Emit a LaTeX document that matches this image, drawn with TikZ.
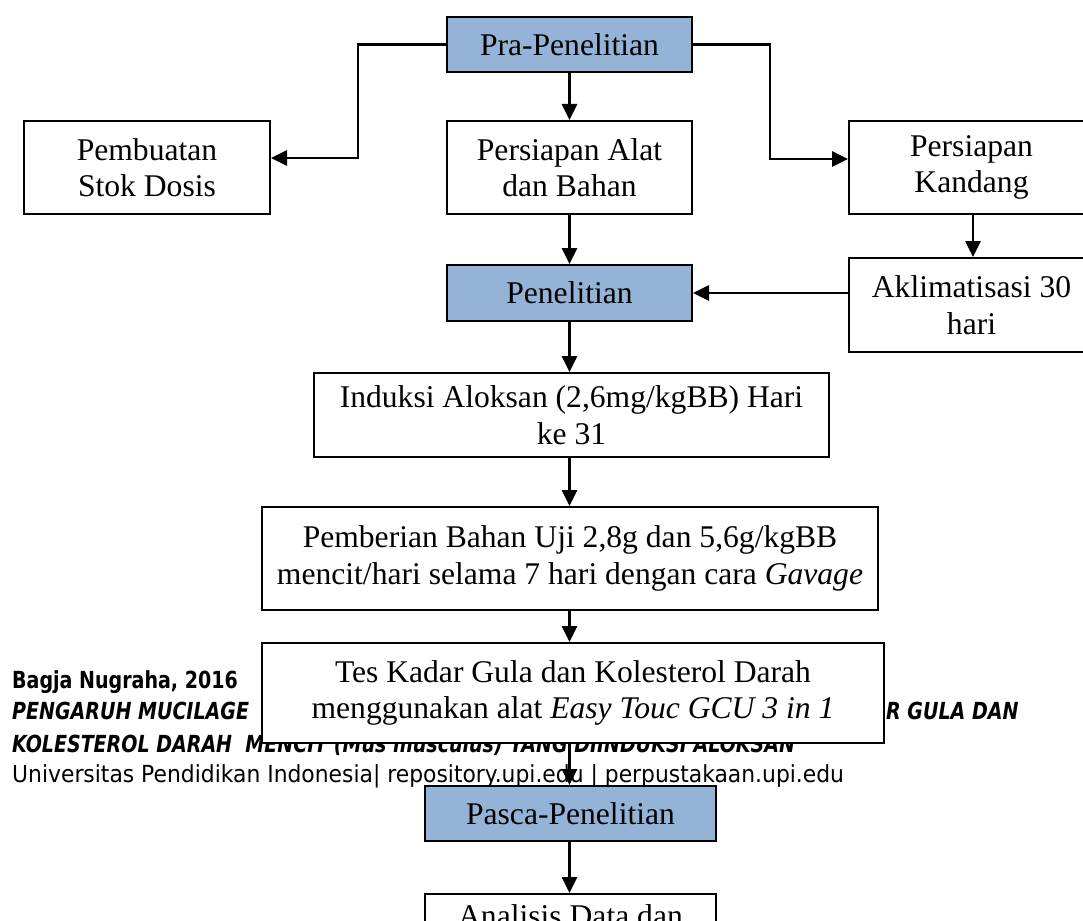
\documentclass[tikz,border=0pt]{standalone}
\usepackage{fontspec}
\setmainfont{Liberation Serif}
\newfontfamily\footfont[FakeStretch=0.93]{DejaVu Sans}
\newfontfamily\footbfont[FakeStretch=0.81]{DejaVu Sans Bold}
\newfontfamily\footbifont[FakeStretch=0.81]{DejaVu Sans Bold Oblique}
\usetikzlibrary{arrows.meta}
\definecolor{boxblue}{RGB}{149,179,215}
\begin{document}
\begin{tikzpicture}[x=1pt,y=-1pt,
  txt/.style={inner sep=0pt, align=center, font=\fontsize{31.6}{36.5}\selectfont},
  box/.style={txt, draw=black, line width=2pt, fill=white},
  bluebox/.style={box, fill=boxblue},
  arr/.style={line width=2.7pt, -{Triangle[length=16pt,width=15pt]}},
  foot/.style={anchor=base west, inner sep=0pt, font=\footfont\fontsize{23.5}{28}\selectfont},
  footb/.style={foot, font=\footbfont\fontsize{23.5}{28}\selectfont},
  footbi/.style={foot, font=\footbifont\fontsize{23.5}{28}\selectfont}]
\useasboundingbox (0,0) rectangle (1083,920);
\clip (0,0) rectangle (1083,920);
% footer of the page (lies under the diagram)
\node[footb] (f1) at (12,688) {Bagja Nugraha, 2016};
\node[footbi] (f2a) at (12,719) {PENGARUH MUCILAGE};
\node[footbi] (f2b) at (886,719) {R GULA DAN};
\node[footbi] (f3) at (12,752) {KOLESTEROL DARAH\ \ MENCIT (Mus musculus) YANG DIINDUKSI ALOKSAN};
\node[foot] (f4) at (12,782) {Universitas Pendidikan Indonesia| repository.upi.edu | perpustakaan.upi.edu};
% boxes
\node[bluebox, minimum width=245pt, minimum height=55pt] (pra) at (569.5,44.5) {Pra-Penelitian};
\node[box, minimum width=246pt, minimum height=93pt] (pemb) at (147,167.5) {Pembuatan\\Stok Dosis};
\node[box, minimum width=245pt, minimum height=93pt] (alat) at (569.5,167.5) {Persiapan Alat\\dan Bahan};
\node[box, minimum width=245pt, minimum height=93pt] (kand) at (971.5,167.5) {};
\begin{scope}
  \clip (kand.north west) rectangle (kand.east |- 0,199);
  \node[txt] (kandt) at (kand.center) {Persiapan\\Kandang};
\end{scope}
\node[bluebox, minimum width=245pt, minimum height=56pt] (pen) at (569.5,293) {Penelitian};
\node[box, minimum width=245pt, minimum height=94pt] (aklim) at (971.5,305) {Aklimatisasi 30\\hari};
\node[box, minimum width=515pt, minimum height=84pt] (ind) at (571.5,415) {Induksi Aloksan (2,6mg/kgBB) Hari\\ke 31};
\node[box, minimum width=616pt, minimum height=103pt] (pemberian) at (570,558.5) {Pemberian Bahan Uji 2,8g dan 5,6g/kgBB\\mencit/hari selama 7 hari dengan cara \textit{Gavage}};
\node[box, minimum width=622pt, minimum height=100pt] (tes) at (573,693) {Tes Kadar Gula dan Kolesterol Darah\\menggunakan alat \textit{Easy Touc GCU 3 in 1}};
\node[bluebox, minimum width=291pt, minimum height=55pt] (pasca) at (570.5,813.5) {Pasca-Penelitian};
\node[box, minimum width=291pt, minimum height=93pt, anchor=north] (anal) at (570.5,893) {};
\node[txt, anchor=base] (analt) at (570.5,926) {Analisis Data dan};
% connectors
\coordinate (lt) at (358,158);
\coordinate (rt) at (770,159);
\draw[arr] (pra.west) -| (lt) -- (lt -| pemb.east);
\draw[arr] (pra.east) -| (rt) -- (rt -| kand.west);
\draw[arr] (pra.south) -- (alat.north);
\draw[arr] (alat.south) -- (pen.north);
\draw[arr] (kand.south -| 973,0) -- (aklim.north -| 973,0);
\draw[arr] (aklim.west |- pen.east) -- (pen.east);
\draw[arr] (pen.south) -- (pen.south |- ind.north);
\draw[arr] (pen.south |- ind.south) -- (pen.south |- pemberian.north);
\draw[arr] (pen.south |- pemberian.south) -- (pen.south |- tes.north);
\draw[arr] (pen.south |- tes.south) -- (pen.south |- pasca.north);
\draw[arr] (pen.south |- pasca.south) -- (pen.south |- anal.north);
\end{tikzpicture}
\end{document}
